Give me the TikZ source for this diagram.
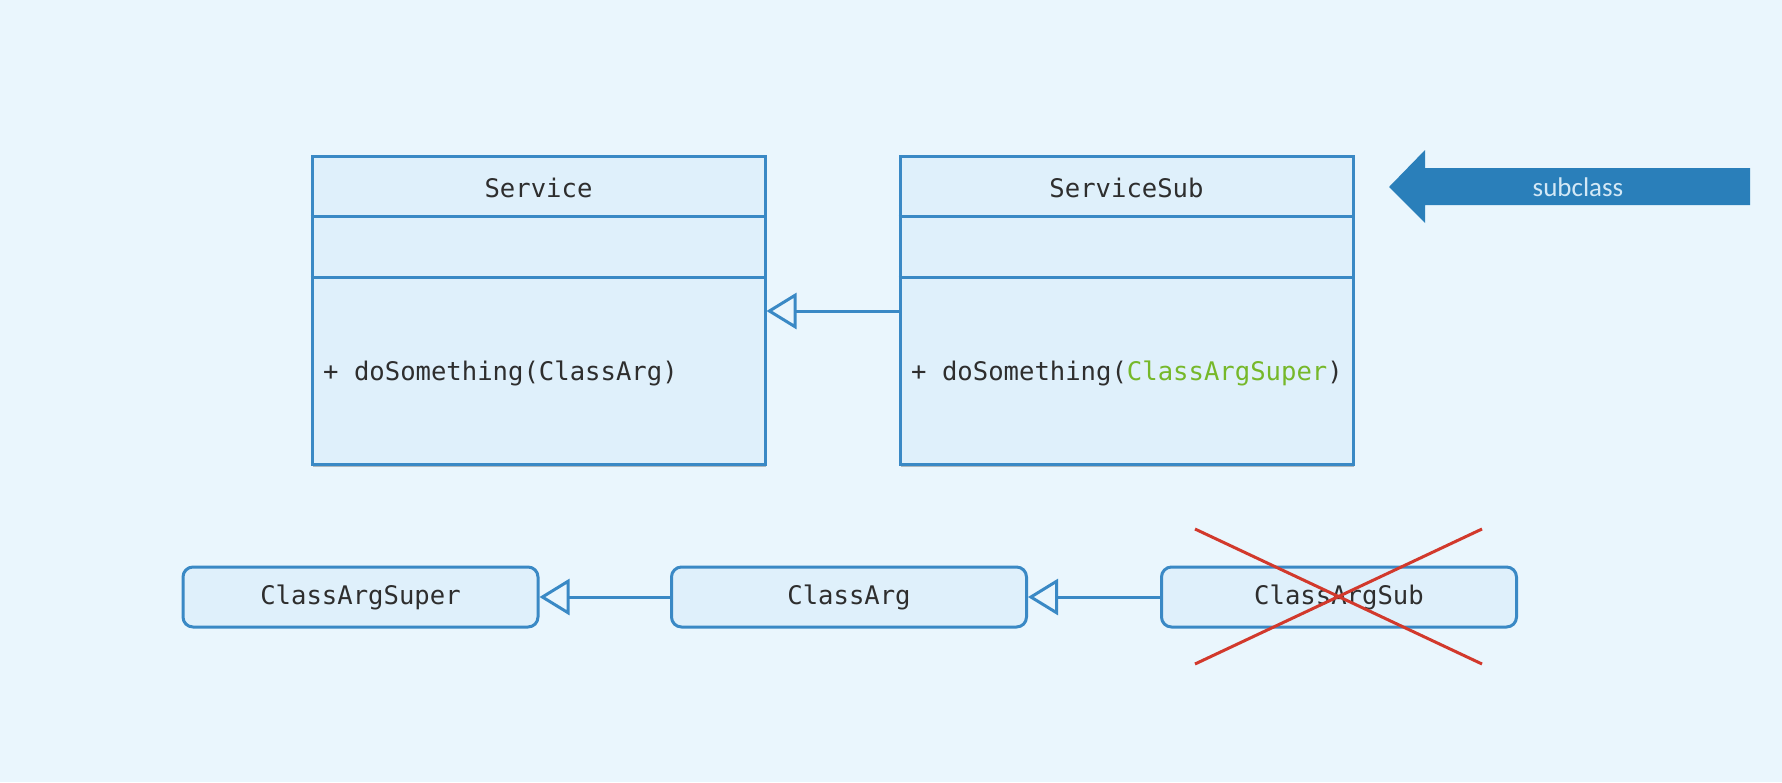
\documentclass[tikz,border=0pt]{standalone}
\usepackage{fontspec}
\setmonofont{DejaVu Sans Mono}
\newfontfamily\labelfont{Carlito}
\usetikzlibrary{arrows.meta,shadows}
\definecolor{bg}{HTML}{EAF6FD}
\definecolor{boxfill}{HTML}{DFF0FB}
\definecolor{boxline}{HTML}{3A89C5}
\definecolor{ink}{HTML}{2E2E2E}
\definecolor{argsuper}{HTML}{76B82A}
\definecolor{bigarrow}{HTML}{2A7FBA}
\definecolor{arrowtext}{HTML}{D3E8F6}
\definecolor{crossred}{HTML}{D2392C}
\begin{document}
\begin{tikzpicture}[x=1pt,y=-1pt,
  umltext/.style={font=\fontsize{25.6}{30}\selectfont\ttfamily, text=ink, inner sep=0pt},
  boxshadow/.style={drop shadow={shadow xshift=1pt, shadow yshift=-3pt, opacity=0.25, fill=black}},
  classbox/.style={draw=boxline, fill=boxfill, line width=3pt, minimum width=453pt,
    minimum height=308pt, inner sep=0pt, boxshadow},
  argbox/.style={draw=boxline, fill=boxfill, line width=3pt, rounded corners=10pt,
    minimum width=355pt, minimum height=60pt, inner sep=0pt,
    font=\fontsize{25.6}{30}\selectfont\ttfamily, text=ink},
  divider/.style={draw=boxline, line width=3pt},
  generalization/.style={draw=boxline, line width=3pt,
    -{Triangle[open, length=30pt, width=36pt, line width=3pt]}},
]
% background
\fill[bg] (0,0) rectangle (1782,782);

% class boxes
\node[classbox] (svc) at (538.5,310) {};
\node[classbox] (ssub) at (1126.5,310) {};
\foreach \b in {svc,ssub} {
  \draw[divider] (\b.west |- 0,216) -- (\b.east |- 0,216);
  \draw[divider] (\b.west |- 0,277) -- (\b.east |- 0,277);
}
\node[umltext] (svcname) at (538.5,188) {Service};
\node[umltext] (ssubname) at (1126.5,188) {ServiceSub};
\node[umltext, anchor=west] (svcop) at (323,373) {+ doSomething(ClassArg)};
\node[umltext, anchor=west] (ssubop) at (911,373)
  {+ doSomething(\textcolor{argsuper}{ClassArgSuper})};

\draw[generalization] (ssub.west |- 0,311) -- (svc.east |- 0,311);

% argument hierarchy
\node[argbox] (csuper) at (360.5,597) {ClassArgSuper};
\node[argbox] (carg) at (849,597) {ClassArg};
\node[argbox] (csub) at (1339,597) {ClassArgSub};
\draw[generalization] (carg.west) -- (csuper.east);
\draw[generalization] (csub.west) -- (carg.east);

% crossed-out subclass
\coordinate (xa) at (1195,529);
\coordinate (xb) at (1482,664);
\coordinate (xc) at (1482,529);
\coordinate (xd) at (1195,664);
\draw[crossred, line width=3pt] (xa) -- (xb) (xc) -- (xd);

% subclass arrow
\fill[bigarrow] (1389,187) -- (1425,150) -- (1425,168) -- (1750,168)
  -- (1750,205) -- (1425,205) -- (1425,223) -- cycle;
\node[font=\fontsize{27}{32}\selectfont\labelfont, text=arrowtext] (sublabel)
  at (1578,187) {subclass};
\end{tikzpicture}
\end{document}
